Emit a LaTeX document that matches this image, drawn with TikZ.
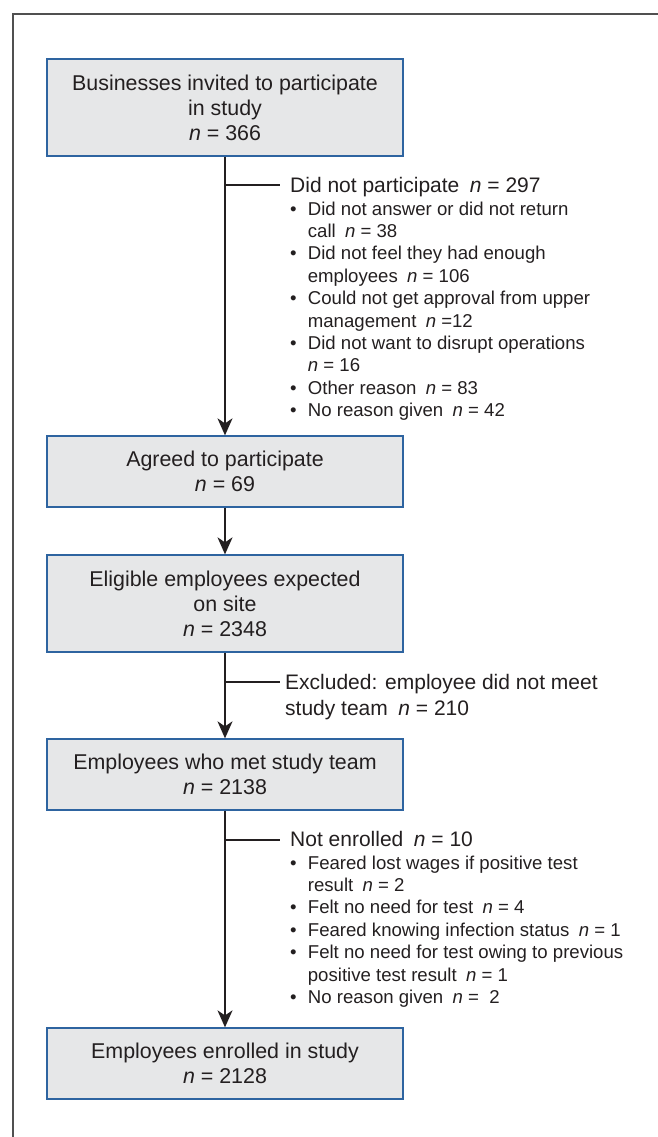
\documentclass[tikz,border=0pt]{standalone}
\usepackage{fontspec}
\setmainfont{Liberation Sans}
\usetikzlibrary{arrows.meta}
\definecolor{boxfill}{HTML}{E6E7E8}
\definecolor{boxline}{HTML}{2E64A0}
\definecolor{ink}{HTML}{231F20}
\definecolor{framegray}{HTML}{505050}
\newcommand\bul{\makebox[17.7pt][l]{\hspace{0pt}\textbullet}}
\newcommand\ind{\hspace*{17.7pt}}
\newcommand\nn{\textit{n}}
\newcommand\hd[1]{{\fontsize{21}{22.4}\selectfont #1}}
\begin{document}
\begin{tikzpicture}[x=1pt,y=-1pt,
  font=\fontsize{21.4}{25}\selectfont, text=ink,
  flowbox/.style={draw=boxline, line width=1.3pt, fill=boxfill, minimum width=356pt, align=center, inner sep=0pt},
  flow/.style={draw=ink, line width=1.4pt, -{Stealth[length=17pt,width=15pt,inset=5pt]}},
  side/.style={draw=ink, line width=1.1pt},
  listtext/.style={anchor=base west, inner sep=0pt, font=\fontsize{18.6}{22.4}\selectfont},
  frameline/.style={draw=framegray, line width=1.6pt}]
\useasboundingbox (0,0) rectangle (658,1137);
% frame
\coordinate (fr) at (658,14);
\coordinate (fc) at (12.7,14);
\coordinate (fb) at (12.7,1137);
\draw[frameline] (fr) -- (fc) -- (fb);
% boxes
\node[flowbox, minimum height=97pt] (b1) at (225,107.5) {Businesses invited to participate\\in study\\\nn{} = 366};
\node[flowbox, minimum height=71pt] (b2) at (225,471.5) {Agreed to participate\\\nn{} = 69};
\node[flowbox, minimum height=97pt] (b3) at (225,603.5) {Eligible employees expected\\on site\\\nn{} = 2348};
\node[flowbox, minimum height=71pt] (b4) at (225,774.5) {Employees who met study team\\\nn{} = 2138};
\node[flowbox, minimum height=71pt] (b5) at (225,1063.5) {Employees enrolled in study\\\nn{} = 2128};
% arrows
\draw[flow] (b1) -- (b2);
\draw[flow] (b2) -- (b3);
\draw[flow] (b3) -- (b4);
\draw[flow] (b4) -- (b5);
% side texts
\node[listtext] (t1) at (290,192) {\begin{tabular}[t]{@{}l@{}}
\hd{Did not participate\enspace\nn{} = 297}\\[0.6pt]
\bul Did not answer or did not return\\
\ind call\enspace\nn{} = 38\\
\bul Did not feel they had enough\\
\ind employees\enspace\nn{} = 106\\
\bul Could not get approval from upper\\
\ind management\enspace\nn{} =12\\
\bul Did not want to disrupt operations\\
\ind\nn{} = 16\\
\bul Other reason\enspace\nn{} = 83\\
\bul No reason given\enspace\nn{} = 42
\end{tabular}};
\node[listtext, font=\fontsize{21}{26}\selectfont] (t2) at (285,689) {\begin{tabular}[t]{@{}l@{}}
Excluded: employee did not meet\\
study team\enspace\nn{} = 210
\end{tabular}};
\node[listtext] (t3) at (290,846.7) {\begin{tabular}[t]{@{}l@{}}
\hd{Not enrolled\enspace\nn{} = 10}\\
\bul Feared lost wages if positive test\\
\ind result\enspace\nn{} = 2\\
\bul Felt no need for test\enspace\nn{} = 4\\
\bul Feared knowing infection status\enspace\nn{} = 1\\
\bul Felt no need for test owing to previous\\
\ind positive test result\enspace\nn{} = 1\\
\bul No reason given\enspace\nn{} =\ \ 2
\end{tabular}};
% side connectors
\coordinate (j1) at (225,185);
\coordinate (j2) at (225,682);
\coordinate (j3) at (225,840);
\coordinate (e1) at (280,185);
\coordinate (e2) at (280,682);
\coordinate (e3) at (280,840);
\draw[side] (j1) -- (e1);
\draw[side] (j2) -- (e2);
\draw[side] (j3) -- (e3);
\end{tikzpicture}
\end{document}
